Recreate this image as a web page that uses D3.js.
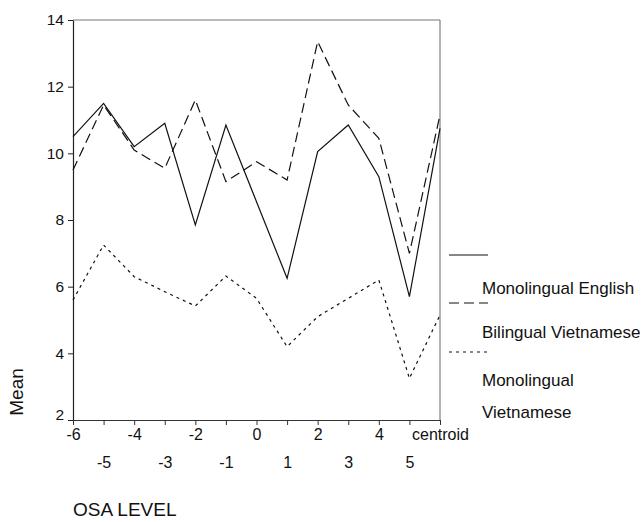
<!DOCTYPE html>
<html>
<head>
<meta charset="UTF-8">
<title>OSA LEVEL</title>
<script src="https://cdn.jsdelivr.net/npm/d3@7"></script>
<style>
	body { margin: 0; background: #fff; }
	text { font-family: "Liberation Sans", Arial, sans-serif; fill: #111; }
</style>
</head>
<body>
	<div id="chart"></div>
	<script type="text/javascript">
		// data
		var levels = ["-6", "-5", "-4", "-3", "-2", "-1", "0", "1", "2", "3", "4", "5", "centroid"];
		var monoEnglish = [10.5, 11.5, 10.2, 10.9, 7.85, 10.85, 8.55, 6.25, 10.05, 10.85, 9.3, 5.7, 10.75];
		var biVietnamese = [9.5, 11.45, 10.1, 9.55, 11.6, 9.15, 9.75, 9.2, 13.35, 11.45, 10.45, 7.0, 11.15];
		var monoVietnamese = [5.6, 7.25, 6.3, 5.85, 5.42, 6.32, 5.65, 4.2, 5.1, 5.65, 6.2, 3.25, 5.15];
		var yTicks = [2, 4, 6, 8, 10, 12, 14];

		var series = [
			{ name: "Monolingual English", values: monoEnglish, dash: null },
			{ name: "Bilingual Vietnamese", values: biVietnamese, dash: "10,5" },
			{ name: "Monolingual Vietnamese", values: monoVietnamese, dash: "3,4" }
		];

		var margin = { top : 20, right : 204, bottom : 102, left : 73 };
		var width = 644 - margin.left - margin.right;
		var height = 522 - margin.top - margin.bottom;

		var svg = d3.select("#chart").append("svg").attr("width", 644).attr("height", 522)
			.append("g").attr("transform", "translate(" + margin.left + "," + margin.top + ")");

		var x = d3.scalePoint().domain(levels).range([ 0, width ]);
		var y = d3.scaleLinear().domain([ 2, 14 ]).range([ height, 0 ]);

		// frame (top and right in grey)
		svg.append("line").attr("x1", 0).attr("x2", width).attr("y1", 0).attr("y2", 0).attr("stroke", "#777").attr("stroke-width", 1);
		svg.append("line").attr("x1", width).attr("x2", width).attr("y1", 0).attr("y2", height).attr("stroke", "#666").attr("stroke-width", 1);

		// x axis, labels staggered on two rows
		var xAxis = svg.append("g").attr("transform", "translate(0," + height + ")")
			.call(d3.axisBottom(x).tickSize(5).tickSizeOuter(0));
		xAxis.select(".domain").attr("stroke", "#333");
		xAxis.selectAll(".tick line").attr("stroke", "#333");
		xAxis.selectAll(".tick text").attr("font-size", 16).attr("font-family", "Liberation Sans, Arial, sans-serif")
			.attr("fill", "#111")
			.attr("y", function(d, i) { return i % 2 === 0 ? 9 : 37; });

		// y axis
		var yAxis = svg.append("g").call(d3.axisLeft(y).tickValues(yTicks).tickSize(5).tickSizeOuter(0).tickPadding(4));
		yAxis.select(".domain").attr("stroke", "#222").attr("stroke-width", 1.2);
		yAxis.selectAll(".tick line").attr("stroke", "#222");
		yAxis.selectAll(".tick text").attr("font-size", 15.5).attr("font-family", "Liberation Sans, Arial, sans-serif").attr("fill", "#111")
			.attr("dy", function(d) { return d === 2 ? "-0.05em" : "0.32em"; });

		// lines
		var line = d3.line().x(function(d, i) { return x(levels[i]); }).y(function(d) { return y(d); });
		series.forEach(function(s) {
			svg.append("path").datum(s.values).attr("fill", "none").attr("stroke", "#111")
				.attr("stroke-width", 1.2).attr("stroke-dasharray", s.dash).attr("d", line);
		});

		// axis titles
		svg.append("text").attr("transform", "translate(" + (-57) + "," + 372 + ") rotate(-90)")
			.attr("text-anchor", "middle").attr("dy", "0.35em").attr("font-size", 19).text("Mean");
		svg.append("text").attr("x", 0).attr("y", 489).attr("dy", "0.35em").attr("font-size", 19).text("OSA LEVEL");

		// legend
		var legend = d3.select("svg").append("g");
		var legendRows = [
			{ lineY: 255, dash: null, labels: [ { t: "Monolingual English", y: 288 } ] },
			{ lineY: 303, dash: "10,5", labels: [ { t: "Bilingual Vietnamese", y: 332 } ] },
			{ lineY: 352, dash: "3,4", labels: [ { t: "Monolingual", y: 380 }, { t: "Vietnamese", y: 412 } ] }
		];
		legendRows.forEach(function(r) {
			legend.append("line").attr("x1", 449).attr("x2", 488).attr("y1", r.lineY).attr("y2", r.lineY)
				.attr("stroke", "#111").attr("stroke-width", 1.1).attr("stroke-dasharray", r.dash);
			r.labels.forEach(function(l) {
				legend.append("text").attr("x", 482).attr("y", l.y).attr("dy", "0.35em").attr("font-size", 17).text(l.t);
			});
		});
	</script>
</body>
</html>
